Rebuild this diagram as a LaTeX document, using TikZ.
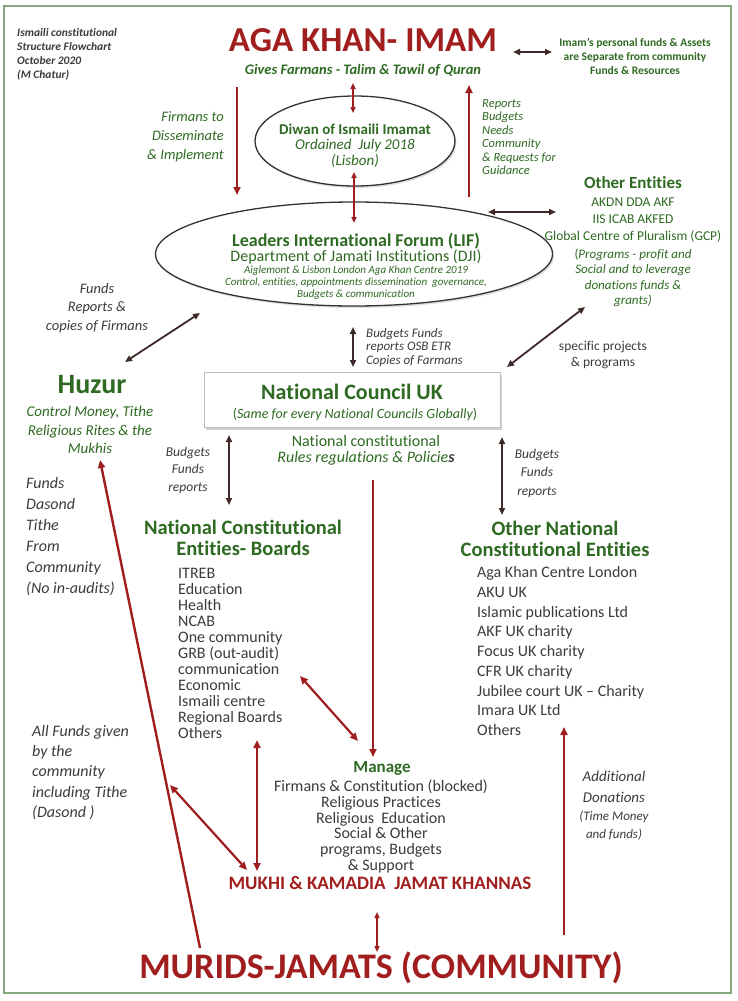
\documentclass[tikz,border=0pt]{standalone}
\usepackage{fontspec}
\setmainfont{Carlito}[Ligatures=NoCommon]
\usetikzlibrary{arrows.meta,shapes.geometric,shadows}
\definecolor{dred}{HTML}{A11E1E}
\definecolor{dgreen}{HTML}{2E6A22}
\definecolor{tgrey}{HTML}{3C3C3C}
\definecolor{conn}{HTML}{3E2828}
\definecolor{framec}{HTML}{86A680}
\newcommand{\fs}[2]{\fontsize{#1}{#2}\selectfont}
\begin{document}
\begin{tikzpicture}[x=1pt,y=-1pt,
  redarr/.style={draw=dred, line width=2.4pt, -{Triangle[length=8pt,width=7pt]}},
  redboth/.style={draw=dred, line width=2.2pt, {Triangle[length=8pt,width=7pt]}-{Triangle[length=8pt,width=7pt]}},
  redthin/.style={draw=dred, line width=1.6pt, {Triangle[length=6pt,width=5pt]}-{Triangle[length=6pt,width=5pt]}},
  darkboth/.style={draw=conn, line width=1.8pt, {Triangle[length=7pt,width=6pt]}-{Triangle[length=7pt,width=6pt]}},
  lbl/.style={inner sep=0pt, align=center},
  lblL/.style={inner sep=0pt, align=left, anchor=west},
  oval/.style={ellipse, draw=black!80, line width=1.3pt, fill=white, inner sep=0pt,
     drop shadow={opacity=0.25, shadow xshift=1.5pt, shadow yshift=-2pt}},
]
\useasboundingbox (0,0) rectangle (737,1001);
\fill[white] (0,0) rectangle (737,1001);
\draw[framec, line width=1.8pt] (4,6) rectangle (731,993);

% ---- top
\node[lblL, text=tgrey, font=\fs{11.5}{14}\bfseries\itshape] (meta) at (17,54)
  {Ismaili constitutional\\Structure Flowchart\\October 2020\\(M Chatur)};
\node[lbl, text=dred, font=\fs{35}{40}\bfseries] (imam) at (363,40) {AGA KHAN- IMAM};
\node[lbl, text=dgreen, font=\fs{14.5}{16}\bfseries\itshape] (gives) at (363,70)
  {Gives Farmans - Talim \& Tawil of Quran};
\node[lbl, text=dgreen, font=\fs{11.5}{14}\bfseries] (personal) at (635,56)
  {Imam’s personal funds \& Assets\\are Separate from community\\Funds \& Resources};
\node[lbl, align=right, anchor=east, text=dgreen, font=\fs{14.5}{19}\itshape] (firmans) at (224,137)
  {Firmans to\\Disseminate\\\& Implement};
\node[lblL, text=dgreen, font=\fs{12.5}{13.5}\itshape] (reports) at (482,137)
  {Reports\\Budgets\\Needs\\Community\\\& Requests for\\Guidance};

% ---- Diwan
\node[oval, minimum width=200pt, minimum height=90pt] (diwan) at (355,141) {};
\node[lbl, text=dgreen, font=\fs{15}{15.5}] (diwant) at (355,145.5)
  {{\bfseries Diwan of Ismaili Imamat}\\{\itshape Ordained~ July 2018}\\{\itshape (Lisbon)}};

% ---- LIF
\node[oval, minimum width=397pt, minimum height=104pt] (lif) at (354,254) {};
\node[lbl, text=dgreen] (liftext) at (356,266)
  {\fs{18}{18}\bfseries Leaders International Forum (LIF)\\
   \fs{16}{17}Department of Jamati Institutions (DJI)\\
   \fs{11}{13}\itshape Aiglemont \& Lisbon London Aga Khan Centre 2019\\
   \fs{11}{12}\itshape Control, entities, appointments dissemination~ governance,\\
   \fs{11}{12}\itshape Budgets \& communication};

% ---- Other entities
\node[lbl, text=dgreen, font=\fs{17}{18}\bfseries] (othtitle) at (633,183) {Other Entities};
\node[lbl, text=dgreen, font=\fs{13.5}{17}] (othlist) at (633,220)
  {AKDN DDA AKF\\IIS ICAB AKFED\\Global Centre of Pluralism (GCP)};
\node[lbl, text=dgreen, font=\fs{13}{15.3}\itshape] (othprog) at (633,278)
  {{\upshape(}Programs - profit and\\Social and to leverage\\donations funds \&\\grants)};
\node[lbl, text=tgrey, font=\fs{13.5}{16}] (specific) at (603,355)
  {specific projects\\\& programs};

% ---- left
\node[lbl, text=tgrey, font=\fs{14.5}{18.5}\itshape] (fundsrep) at (97,308)
  {Funds\\Reports \&\\copies of Firmans};
\node[lbl, text=dgreen, font=\fs{28}{30}\bfseries] (huzur) at (92,385) {Huzur};
\node[lbl, text=dgreen, font=\fs{15}{18.5}\itshape] (huzdesc) at (90,430)
  {Control Money, Tithe\\Religious Rites \& the\\Mukhis};
\node[lblL, text=tgrey, font=\fs{16}{21}\itshape] (dasond) at (26,536.5)
  {Funds\\Dasond\\Tithe\\From\\Community\\(No in-audits)};
\node[lblL, text=tgrey, font=\fs{16}{20.25}\itshape] (allfunds) at (32,772.5)
  {All Funds given\\by the\\community\\including Tithe\\(Dasond )};

% ---- National council
\node[draw=black!25, line width=1pt, fill=white, minimum width=296pt, minimum height=55pt, inner sep=0pt,
  drop shadow={opacity=0.35, shadow xshift=1.5pt, shadow yshift=-2.5pt}] (ncuk) at (352,399.5) {};
\node[lbl, text=dgreen, font=\fs{22}{24}\bfseries] (ncukt) at (352,392) {National Council UK};
\node[lbl, text=dgreen, font=\fs{14}{15}\itshape] (ncuks) at (355,415)
  {{\upshape(}Same for every National Councils Globally{\upshape)}};
\node[lblL, text=tgrey, font=\fs{13}{13.5}\itshape] (bfcent) at (366,347.5)
  {Budgets Funds\\reports OSB ETR\\Copies of Farmans};
\node[lbl, text=dgreen, font=\fs{16}{16}] (rules) at (366,450.5)
  {National constitutional\\{\itshape Rules regulations \& Policie{\color{tgrey}\bfseries s}}};
\node[lbl, text=tgrey, font=\fs{13.5}{17.5}\itshape] (bfleft) at (188,470) {Budgets\\Funds\\reports};
\node[lbl, text=tgrey, font=\fs{13.5}{18.5}\itshape] (bfright) at (537,473) {Budgets\\Funds\\reports};

% ---- Boards
\node[lbl, text=dgreen, font=\fs{20.5}{21}\bfseries] (boardt) at (243,537.5)
  {National Constitutional\\Entities- Boards};
\node[lblL, text=tgrey, font=\fs{16}{16}] (boardl) at (178,653)
  {ITREB\\Education\\Health\\NCAB\\One community\\GRB (out-audit)\\communication\\Economic\\Ismaili centre\\Regional Boards\\Others};
\node[lbl, text=dgreen, font=\fs{20.5}{21}\bfseries] (onct) at (555,538.5)
  {Other National\\Constitutional Entities};
\node[lblL, text=tgrey, font=\fs{16}{19.75}] (oncl) at (477,651)
  {Aga Khan Centre London\\AKU UK\\Islamic publications Ltd\\AKF UK charity\\Focus UK charity\\CFR UK charity\\Jubilee court UK – Charity\\Imara UK Ltd\\Others};

% ---- Manage
\node[lbl, text=dgreen, font=\fs{17}{18}\bfseries] (manage) at (382,768) {Manage};
\node[lbl, text=tgrey, font=\fs{16}{15.8}] (managel) at (381,826.5)
  {Firmans \& Constitution (blocked)\\Religious Practices\\Religious~ Education\\Social \& Other\\programs, Budgets\\\& Support};
\node[lbl, text=tgrey, font=\fs{15}{21}\itshape] (addl1) at (614,786.5) {Additional\\Donations};
\node[lbl, text=tgrey, font=\fs{13}{18}\itshape] (addl2) at (614,826) {(Time Money\\and funds)};

% ---- bottom
\node[lbl, text=dred, font=\fs{19}{20}\bfseries] (mukhi) at (380,883) {MUKHI \& KAMADIA~ JAMAT KHANNAS};
\node[lbl, text=dred, font=\fs{36}{40}\bfseries] (murids) at (381,968) {MURIDS-JAMATS (COMMUNITY)};

% ---- coordinates
\coordinate (p1a) at (513,52);  \coordinate (p1b) at (552,52);
\coordinate (p2a) at (237,87);  \coordinate (p2b) at (237,195);
\coordinate (p3a) at (353,83);  \coordinate (p3b) at (353,113);
\coordinate (p4a) at (354,172); \coordinate (p4b) at (354,223);
\coordinate (p5a) at (469,197); \coordinate (p5b) at (469,85);
\coordinate (p6a) at (488,212); \coordinate (p6b) at (556,212);
\coordinate (p7a) at (200,313); \coordinate (p7b) at (125,362);
\coordinate (p8a) at (353,327); \coordinate (p8b) at (353,367);
\coordinate (p9a) at (585,307); \coordinate (p9b) at (507,367);
\coordinate (p10a) at (229,435); \coordinate (p10b) at (229,505);
\coordinate (p11a) at (502,437); \coordinate (p11b) at (502,515);
\coordinate (p12a) at (373,480); \coordinate (p12b) at (373,757);
\coordinate (p13a) at (300,676); \coordinate (p13b) at (358,741);
\coordinate (p14a) at (257,740); \coordinate (p14b) at (257,871);
\coordinate (p15a) at (170,785); \coordinate (p15b) at (247,870);
\coordinate (p16a) at (200,948); \coordinate (p16b) at (100,460);
\coordinate (p17a) at (564,935); \coordinate (p17b) at (564,727);
\coordinate (p18a) at (377,912); \coordinate (p18b) at (377,952);

% ---- connectors
\draw[darkboth] (p1a) -- (p1b);
\draw[redarr] (p2a) -- (p2b);
\draw[redthin] (p3a) -- (p3b);
\draw[redthin, line width=2pt] (p4a) -- (p4b);
\draw[redarr] (p5a) -- (p5b);
\draw[darkboth] (p6a) -- (p6b);
\draw[darkboth] (p7a) -- (p7b);
\draw[darkboth] (p8a) -- (p8b);
\draw[darkboth] (p9a) -- (p9b);
\draw[darkboth] (p10a) -- (p10b);
\draw[darkboth] (p11a) -- (p11b);
\draw[redarr] (p12a) -- (p12b);
\draw[redboth] (p13a) -- (p13b);
\draw[redboth] (p14a) -- (p14b);
\draw[redboth] (p15a) -- (p15b);
\draw[redarr] (p16a) -- (p16b);
\draw[redarr] (p17a) -- (p17b);
\draw[redthin] (p18a) -- (p18b);
\end{tikzpicture}
\end{document}
